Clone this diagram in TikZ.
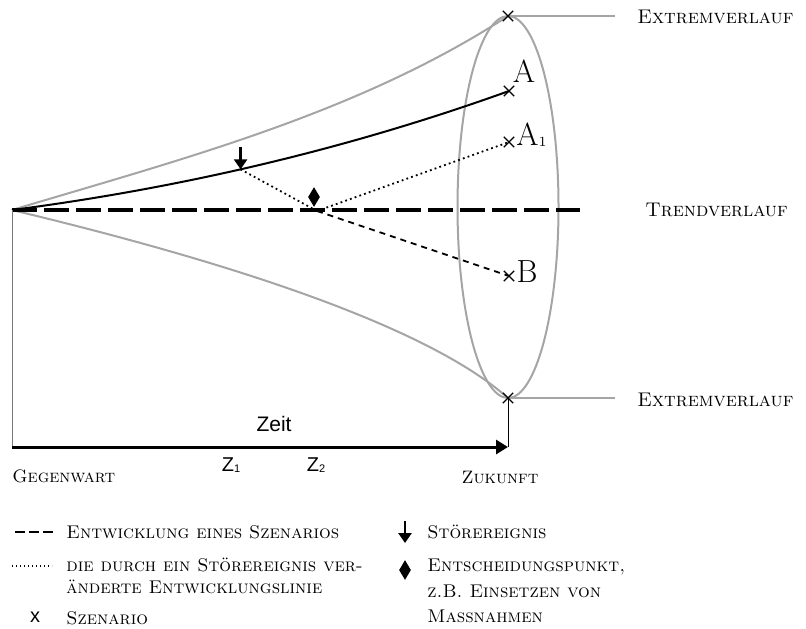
\documentclass[tikz,border=0pt]{standalone}
\usepackage{fontspec}
\newfontfamily\zsans{Liberation Sans}
\usetikzlibrary{arrows.meta,shapes.geometric,shapes.misc}
\definecolor{cgray}{RGB}{165,165,165}
\definecolor{dgray}{RGB}{120,120,120}
\tikzset{
  graycurve/.style={draw=cgray,line width=1pt},
  scenx/.style={cross out,draw=black,minimum size=4.6pt,inner sep=0pt,line width=0.55pt},
  sclabel/.style={inner sep=0pt,font=\fontsize{9.9}{12}\selectfont},
  axlabel/.style={inner sep=0pt,font=\fontsize{9}{11}\selectfont},
  leglabel/.style={inner sep=0pt,align=left,font=\fontsize{9.2}{12.5}\selectfont},
  biglabel/.style={inner sep=0pt,font=\fontsize{16}{18}\selectfont},
  trend/.style={line width=1.6pt,dash pattern=on 12.5pt off 3.5pt},
  dotline/.style={line width=0.9pt,dash pattern=on 0.9pt off 1.6pt},
  shortdash/.style={line width=0.9pt,dash pattern=on 3pt off 2.5pt},
  diam/.style={diamond,fill=black,inner sep=0pt,minimum width=6pt,minimum height=10pt},
  stoerarrow/.style={line width=1.2pt,-{Triangle[length=5pt,width=6.5pt]}},
}
\begin{document}
\begin{tikzpicture}[x=0.5pt,y=-0.5pt]
\useasboundingbox (0,0) rectangle (806,628);
% key points
\coordinate (O) at (12,210);
\coordinate (TopE) at (508,16);
\coordinate (BotE) at (508,398);
\coordinate (TrendEnd) at (580,210);
\coordinate (Knick) at (317,211);
% ellipse
\node[ellipse,draw=cgray,line width=1pt,minimum width=50.5pt,minimum height=191pt,inner sep=0pt] (ell) at (508,207) {};
% extreme curves
\draw[graycurve] (O) .. controls (182,159) and (358,113.5) .. (TopE);
\draw[graycurve] (O) .. controls (200,255) and (420,320) .. (BotE);
\coordinate (TopR) at (615,16);
\coordinate (BotR) at (615,398);
\draw[graycurve] (TopE) -- (TopR);
\draw[graycurve] (BotE) -- (BotR);
% trend
\draw[trend] (O) -- (TrendEnd);
% scenario A
\draw[line width=1pt] (O) .. controls (177,188.5) and (344,150.4) .. coordinate[pos=0.46] (Stoer) (509,91) coordinate (PA);
% disturbed lines
\coordinate (PA1) at (509,142);
\coordinate (PB) at (509,276);
\draw[dotline] (Stoer) -- (Knick);
\draw[dotline] (Knick) -- (PA1);
\draw[shortdash] (Knick) -- (PB);
% crosses
\node[scenx] (xT) at (TopE) {};
\node[scenx] (xA) at (PA) {};
\node[scenx] (xA1) at (PA1) {};
\node[scenx] (xB) at (PB) {};
\node[scenx] (xBo) at (BotE) {};
% scenario labels
\node[biglabel] (lA) at (524,71) {A};
\node[biglabel,anchor=west] (lA1) at (516,135) {A\raisebox{-0.5pt}{\fontsize{7}{8}\selectfont 1}};
\node[biglabel] (lB) at (527,272) {B};
% event symbols
\coordinate (ArrTop) at ([yshift=11pt]Stoer);
\draw[stoerarrow] (ArrTop) -- (Stoer);
\node[diam] (dm) at (314,197) {};
% right labels
\node[sclabel,anchor=west] (ex1) at (637,17) {\textsc{Extremverlauf}};
\node[sclabel,anchor=west] (tr) at (645,210) {\textsc{Trendverlauf}};
\node[sclabel,anchor=west] (ex2) at (637,400) {\textsc{Extremverlauf}};
% time axis
\coordinate (AxL) at (12,447);
\coordinate (AxR) at (508,447);
\draw[dgray,line width=0.5pt] (O) -- (AxL);
\draw[line width=0.5pt] (AxR) -- (BotE);
\draw[line width=1.5pt,-{Triangle[length=6pt,width=7pt]}] (AxL) -- (AxR);
\node[inner sep=0pt,font=\zsans\fontsize{10.5}{12}\selectfont] (zeit) at (274,424) {Zeit};
\node[inner sep=0pt,font=\zsans\fontsize{10}{11}\selectfont] (z1) at (231,465) {Z\raisebox{-0.3pt}{\fontsize{5.5}{6}\selectfont 1}};
\node[inner sep=0pt,font=\zsans\fontsize{10}{11}\selectfont] (z2) at (316,465) {Z\raisebox{-0.3pt}{\fontsize{5.5}{6}\selectfont 2}};
\node[axlabel,anchor=west] (geg) at (12,476) {\textsc{Gegenwart}};
\node[axlabel] (zuk) at (500,477) {\textsc{Zukunft}};
% legend left
\coordinate (L1a) at (15,532); \coordinate (L1b) at (55,532);
\draw[line width=1.3pt,dash pattern=on 5pt off 2pt] (L1a) -- (L1b);
\node[leglabel,anchor=west] (t1) at (66,532) {\textsc{Entwicklung eines Szenarios}};
\coordinate (L2a) at (12,566); \coordinate (L2b) at (52,566);
\draw[line width=0.9pt,dash pattern=on 0.7pt off 1.3pt] (L2a) -- (L2b);
\node[leglabel,anchor=north west,font=\fontsize{9.2}{11}\selectfont] (t2) at (66,558) {\textsc{die durch ein Störereignis ver-}\\\textsc{änderte Entwicklungslinie}};
\node[inner sep=0pt,font=\zsans\fontsize{10}{12}\selectfont] (lx) at (35,617) {x};
\node[leglabel,anchor=west] (t3) at (66,618) {\textsc{Szenario}};
% legend right
\coordinate (L4a) at (405,521); \coordinate (L4b) at (405,543);
\draw[stoerarrow] (L4a) -- (L4b);
\node[leglabel,anchor=west] (t4) at (427,532) {\textsc{Störereignis}};
\node[diam] (dm2) at (405,570) {};
\node[leglabel,anchor=north west,font=\fontsize{9.2}{12.75}\selectfont] (t5) at (427,559) {\textsc{Entscheidungspunkt,}\\\textsc{z.B. Einsetzen von}\\\textsc{Massnahmen}};
\end{tikzpicture}
\end{document}
